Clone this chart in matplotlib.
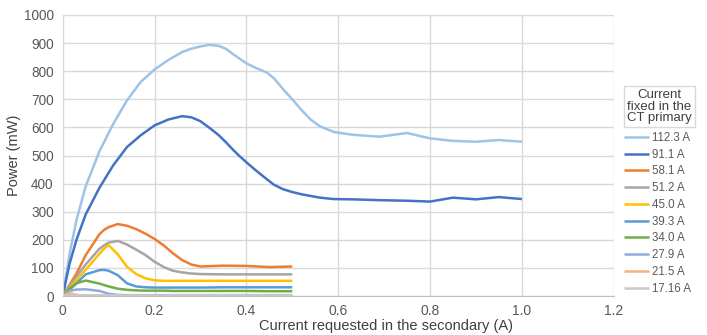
import matplotlib
matplotlib.use("Agg")
import matplotlib.pyplot as plt

plt.rcParams['font.family'] = ['Liberation Sans', 'DejaVu Sans']

# ---- data ----
x_big = [0, 0.015, 0.03, 0.05, 0.08, 0.11, 0.14, 0.17, 0.2, 0.23, 0.26, 0.28, 0.3, 0.32,
         0.34, 0.355, 0.37, 0.385, 0.4, 0.42, 0.445, 0.46, 0.48, 0.5, 0.52, 0.54, 0.56,
         0.59, 0.63, 0.69, 0.75, 0.8, 0.85, 0.9, 0.95, 1.0]
p_112_3 = [0, 150, 270, 390, 515, 612, 696, 762, 806, 840, 868, 880, 888, 894,
           890, 880, 862, 845, 828, 812, 795, 775, 736, 700, 662, 628, 604,
           584, 574, 567, 580, 561, 552, 549, 555, 549]
p_91_1 = [0, 115, 200, 290, 385, 465, 530, 572, 607, 628, 640, 636, 622, 598,
          572, 548, 522, 498, 476, 448, 415, 396, 380, 370, 362, 356, 350,
          345, 344, 341, 339, 336, 350, 344, 352, 345]

x_small = [0, 0.015, 0.03, 0.05, 0.08, 0.09, 0.1, 0.12, 0.14, 0.16, 0.18, 0.2,
           0.22, 0.24, 0.26, 0.28, 0.3, 0.35, 0.4, 0.45, 0.5]
p_58_1 = [0, 40, 80, 145, 220, 235, 245, 256, 250, 238, 222, 203,
          180, 152, 128, 112, 105, 108, 107, 103, 105]
p_51_2 = [0, 35, 69, 112, 168, 180, 190, 196, 183, 165, 146, 122,
          103, 90, 84, 80, 78, 77, 77, 77, 77]
p_45_0 = [0, 28, 57, 93, 150, 168, 181, 148, 104, 78, 63, 56,
          54, 54, 54, 54, 54, 54, 54, 54, 54]
p_39_3 = [0, 22, 45, 77, 92, 93, 90, 74, 45, 34, 31, 30,
          30, 30, 30, 30, 30, 31, 31, 31, 31]
p_34_0 = [0, 27, 45, 55, 44, 39, 34, 26, 22, 20, 19, 19,
          19, 18, 18, 18, 18, 18, 18, 17, 17]
p_27_9 = [0, 18, 23, 24, 18, 13, 8, 4, 3, 3, 3, 3,
          3, 3, 3, 3, 3, 3, 3, 3, 3]
p_21_5 = [0, 10, 4, 1, 1, 1, 1, 1, 1, 1, 1, 1,
          1, 1, 1, 1, 1, 1, 1, 1, 1]
p_17_16 = [0, 3, 2, 2, 2, 2, 2, 2, 2, 2, 2, 2,
           2, 2, 2, 2, 2, 2, 2, 2, 2]

labels = ["112.3 A", "91.1 A", "58.1 A", "51.2 A", "45.0 A", "39.3 A",
          "34.0 A", "27.9 A", "21.5 A", "17.16 A"]
colors = ["#9DC3E6", "#4472C4", "#ED7D31", "#A5A5A5", "#FFC000", "#5B9BD5",
          "#70AD47", "#8FAADC", "#F4B183", "#C9C9C9"]

x_ticks = [0, 0.2, 0.4, 0.6, 0.8, 1.0, 1.2]
x_ticklabels = ["0", "0.2", "0.4", "0.6", "0.8", "1.0", "1.2"]
y_ticks = list(range(0, 1001, 100))

series = [(x_big, p_112_3), (x_big, p_91_1), (x_small, p_58_1), (x_small, p_51_2),
          (x_small, p_45_0), (x_small, p_39_3), (x_small, p_34_0), (x_small, p_27_9),
          (x_small, p_21_5), (x_small, p_17_16)]

# ---- figure ----
fig = plt.figure(figsize=(7.07, 3.35), dpi=100)
ax = fig.add_axes([62.7 / 707, 39 / 335, 551 / 707, 281 / 335])

handles = []
for (xs, ys), lab, col in zip(series, labels, colors):
    h, = ax.plot(xs, ys, color=col, lw=1.8, label=lab, solid_joinstyle='round',
                 solid_capstyle='butt')
    handles.append(h)

ax.set_xlim(0, 1.2)
ax.set_ylim(0, 1000)
ax.set_xticks(x_ticks)
ax.set_xticklabels(x_ticklabels)
ax.set_yticks(y_ticks)
ax.grid(True, color="#D9D9D9", lw=1)
ax.set_axisbelow(True)
for s in ["top", "right"]:
    ax.spines[s].set_visible(False)
ax.spines["left"].set_color("#D9D9D9")
ax.spines["bottom"].set_color("#BFBFBF")
ax.tick_params(axis="x", length=0, labelsize=10, labelcolor="#595959", pad=5.5)
ax.tick_params(axis="y", length=0, labelsize=9.8, labelcolor="#595959", pad=6.5)
ax.set_xlabel("Current requested in the secondary (A)", fontsize=10.5,
              color="#404040", labelpad=1)
ax.xaxis.set_label_coords((386 - 62.7) / 551, -0.083)
ax.set_ylabel("Power (mW)", fontsize=10.5, color="#404040", labelpad=2)

# legend title box
fig.text(659.5 / 707, 1 - 106.5 / 335, "Current\nfixed in the\nCT primary",
         ha="center", va="center", fontsize=9.5, color="#404040", linespacing=0.95,
         bbox=dict(boxstyle="square,pad=0.2", fc="white", ec="#D9D9D9", lw=1))

leg = fig.legend(handles=handles, labels=labels, loc="upper left",
                 bbox_to_anchor=(624 / 707, 1 - 132 / 335), frameon=False,
                 fontsize=8.3, handlelength=2.2, handletextpad=0.2,
                 labelspacing=0.41, borderaxespad=0, borderpad=0)
for t in leg.get_texts():
    t.set_color("#595959")

fig.savefig("out.png", dpi=100)
